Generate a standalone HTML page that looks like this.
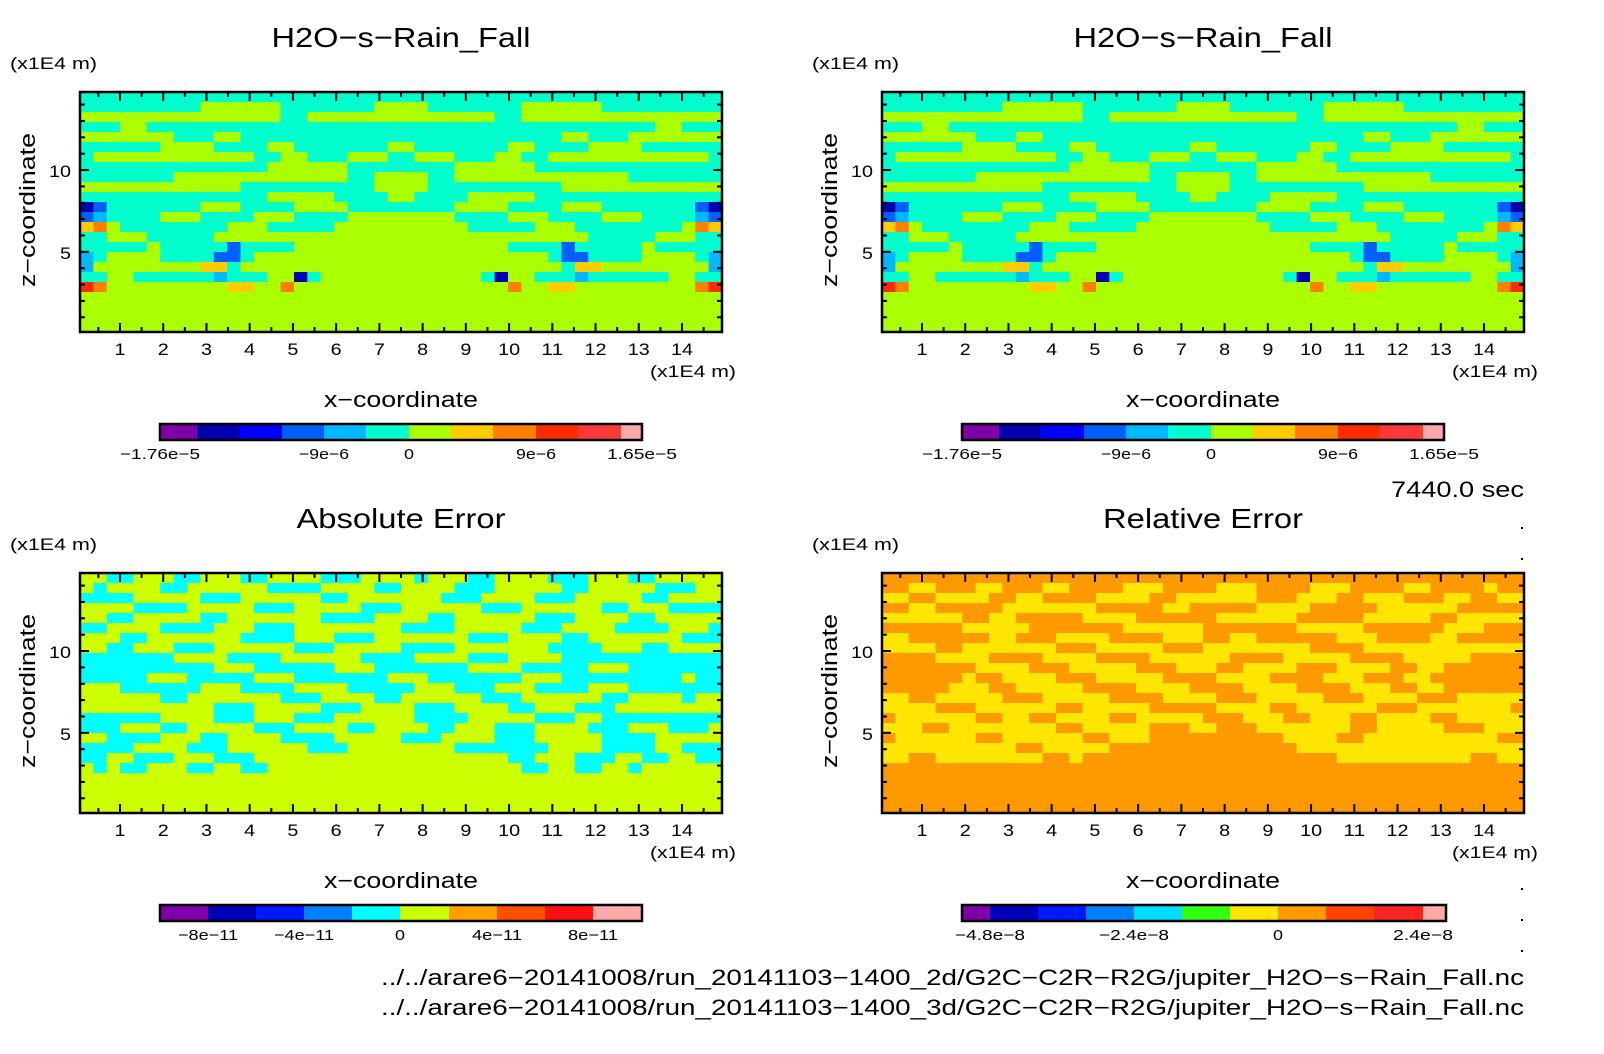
<!DOCTYPE html>
<html><head><meta charset="utf-8"><style>
html,body{margin:0;padding:0;background:#fff;}
svg{display:block;font-family:"Liberation Sans",sans-serif;}
</style></head><body>
<svg id="fig" width="1604" height="1054" viewBox="0 0 1604 1054" xmlns="http://www.w3.org/2000/svg">
<rect x="0" y="0" width="1604" height="1054" fill="#fff"/>
</svg>
<script>
// ---- data ----
const xTickLabels = ["1","2","3","4","5","6","7","8","9","10","11","12","13","14"];
const yTickLabels = ["5","10"];
const xDomain = [0.075, 14.925];
const zDomain = [0.1, 14.77];
const topField = [
"555555555555555555555555555555555555555555555555",
"555555555666666555555566665555555666666555555555",
"666666666666666556666666666666655666666666666666",
"555665555555555555555555555555555555555555566555",
"666666655566555555555555555555555555665556666666",
"555555666655556655555556655555556655556666555555",
"566666666666655665556665566655566556666666666665",
"555555555555556666665555555566666655555555555555",
"555555566666666666665566665566666666666665555555",
"666666666666555555555566665555555555666666666666",
"555555555555556666655556655556666655555555555555",
"135555555666555566665555555566665555666555555531",
"345555666555566655556666666655556665555666555543",
"786555555556665555566666666665555566655555555687",
"556665555566666666666666666666666666665555566655",
"555556555553555566666666666666665555355555655555",
"456666555533566666666666666666666665335555666654",
"466666666775666666666666666666666666577666666664",
"556655555545556615666666666666516655545555556655",
"986666666667766866666666666666668667766666666689",
"666666666666666666666666666666666666666666666666",
"666666666666666666666666666666666666666666666666",
"666666666666666666666666666666666666666666666666",
"666666666666666666666666666666666666666666666666"];
const absField = [
"554455544555445555444555545554455554445554455555",
"545555445555554444555544555544455555445555544455",
"444455555444555555445555555444555544455555445555",
"555544445555544455555444555555444555555445554444",
"554455555445555555444455554455555544455554455555",
"445555444455544455555555444455555444555544445554",
"555445555555444455544455555554445555445555555444",
"554455544455555544455555444455555554444555445555",
"444444455554444555555444455554445555444444444444",
"444444444455544444455544444445555444445554444444",
"444445554444455544444445554444444555444444444544",
"555444444555444455554444455544455544445554444444",
"555555445555555444555544555555444555555445555455",
"555555555544455555444555544455554455544455555555",
"444444555544455544455555544445555544455444444444",
"444555445555544455554455554455544455554445554445",
"554444555445555444455555444555544455555444455555",
"444455554445555554445555555544444445555444455444",
"445544455544455555555555555555554455544455445544",
"545445554455445555555555555555555445544554555555",
"555555555555555555555555555555555555555555555555",
"555555555555555555555555555555555555555555555555",
"555555555555555555555555555555555555555555555555",
"555555555555555555555555555555555555555555555555"];
const relField = [
"777777777777777777777777777777777777777777777777",
"776677766777667777666777766677776667777667777677",
"667766667766777766667766666677766677666777667766",
"776677777666666677777667777766667777766666677777",
"666666776677777666677777766666677777666667766666",
"777777666667777777666666777777766666777777666777",
"667777776677766667777666776677777766677776677777",
"666677666666677766666777666666667777666666666666",
"777766667777666677776666667777666667777666667777",
"777777766667776666677766677666677766667766777777",
"777777677666677766666777766667777666777667777777",
"777776667766666777766667777666677776667766777777",
"667766666777666667777666677766666777666677766666",
"666677766666677666667777766667766666677766666667",
"766666677667766667766666777666776667766667766666",
"666776666666677666667776677766666667766666777666",
"766666677666666776667777777777666677666666666677",
"666666666677666667777777777777766666666666666666",
"667766666666776777777777777777777766666666667766",
"777777777777777777777777777777777777777777777777",
"777777777777777777777777777777777777777777777777",
"777777777777777777777777777777777777777777777777",
"777777777777777777777777777777777777777777777777",
"777777777777777777777777777777777777777777777777"];
const topColors = ["#7f00a8","#0000b0","#0000ff","#0060ff","#00b8ff","#00ffcc","#aaff00","#ffcc00","#ff8000","#ff2a00","#ff3838","#ffaaaa"];
const absColors = ["#7f00a8","#0000b8","#0018ff","#0080ff","#00ffff","#ccff00","#ffa000","#ff5000","#ff1010","#ffaaaa"];
const relColors = ["#7f00a8","#0000b8","#0018ff","#0080ff","#00ddff","#33ff11","#ffe600","#ff9900","#ff4400","#ff2222","#ffaaaa"];
const topCbLabels = ["-1.76e-5","-9e-6","0","9e-6","1.65e-5"];
const topCbLabelEdges = [0,4,6,9,12];
const absCbLabels = ["-8e-11","-4e-11","0","4e-11","8e-11"];
const absCbLabelEdges = [1,3,5,7,9];
const relCbLabels = ["-4.8e-8","-2.4e-8","0","2.4e-8"];
const relCbLabelEdges = [1,4,7,10];
// layout (pixels) - not data
const topCbEdgesPx = [160,197,239,282,324,366,409,451,493,536,578,621,642];
const absCbEdgesPx = [160,208,256,304,352,400,449,497,545,593,642];
const relCbEdgesPx = [160,188,236,284,332,380,428,476,524,572,621,644];

const NS="http://www.w3.org/2000/svg";
const svg=document.getElementById('fig');
function mk(tag,attrs,parent){const e=document.createElementNS(NS,tag);for(const k in attrs)e.setAttribute(k,attrs[k]);(parent||svg).appendChild(e);return e;}
function txt(s,x,y,size,anchor,parent,extra,len){const e=mk('text',Object.assign({x:x,y:y,'font-size':size,'text-anchor':anchor||'start',fill:'#000'},extra||{}),parent);e.textContent=s;
  if(len){e.setAttribute('textLength',len);e.setAttribute('lengthAdjust','spacingAndGlyphs');}return e;}

const FX0=80,FX1=722,FY0=92,FY1=332;
function xs(v){return FX0+(v-xDomain[0])/(xDomain[1]-xDomain[0])*(FX1-FX0);}
function zs(v){return FY1-(v-zDomain[0])/(zDomain[1]-zDomain[0])*(FY1-FY0);}

function panel(dx,dy,title,titleLen,field,colors,cbEdges,cbLabels,cbLabelEdges,name){
  const g=mk('g',{transform:`translate(${dx},${dy})`});
  
  
  const t=txt(title,401,47,28,'middle',g,null,titleLen);
  
  
  const u=txt("(x1E4 m)",10,69,17,'start',g,null,87);
  
  
  const fg=mk('g',{},g);
  
  
  const rows=field.length, cols=field[0].length;
  const dxv=(xDomain[1]-xDomain[0])/cols, dzv=(zDomain[1]-zDomain[0])/rows;
  for(let r=0;r<rows;r++){
    const row=field[r];let c=0;
    while(c<cols){
      let c2=c;while(c2<cols&&row[c2]===row[c])c2++;
      const x0=xs(xDomain[0]+c*dxv),x1=xs(xDomain[0]+c2*dxv);
      const y0=zs(zDomain[1]-r*dzv),y1=zs(zDomain[1]-(r+1)*dzv);
      const rc=mk('rect',{x:x0,y:y0,width:x1-x0+0.4,height:y1-y0+0.4,fill:colors[+row[c]]},fg);
      
      
      c=c2;
    }
  }
  const tg=mk('g',{stroke:'#000','stroke-width':2},g);
  
  
  for(let v=0.5;v<15;v+=0.5){
    const major=Math.abs(v-Math.round(v))<1e-6, L=major?9:5, x=xs(v);
    mk('line',{x1:x,y1:FY1,x2:x,y2:FY1-L},tg);mk('line',{x1:x,y1:FY0,x2:x,y2:FY0+L},tg);
  }
  for(let v=1;v<15;v++){
    const major=v%5===0, L=major?9:5, y=zs(v);
    mk('line',{x1:FX0,y1:y,x2:FX0+L,y2:y},tg);mk('line',{x1:FX1,y1:y,x2:FX1-L,y2:y},tg);
  }
  const fr=mk('rect',{x:FX0,y:FY0,width:FX1-FX0,height:FY1-FY0,fill:'none',stroke:'#000','stroke-width':2.5},g);
  
  
  xTickLabels.forEach((s,i)=>{const e=txt(s,xs(i+1),355,17,'middle',g,null,s.length*11);
    
    });
  yTickLabels.forEach((s,i)=>{const e=txt(s,71,zs((i+1)*5)+7,17,'end',g,null,s.length*11);
    
    });
  const xu=txt("(x1E4 m)",650,377,17,'start',g,null,86);
  
  
  const xt=txt("x\u2212coordinate",401,407,22,'middle',g,null,154);
  
  
  const yt=txt("z\u2212coordinate",0,0,22,'middle',g,{transform:'translate(35,210) rotate(-90)'},154);
  
  
  const cb=mk('g',{},g);
  
  
  colors.forEach((col,i)=>{const r=mk('rect',{x:cbEdges[i],y:424,width:cbEdges[i+1]-cbEdges[i],height:16,fill:col},cb);
    
    });
  mk('rect',{x:cbEdges[0],y:424,width:cbEdges[cbEdges.length-1]-cbEdges[0],height:16,fill:'none',stroke:'#000','stroke-width':2.5},cb);
  cbLabels.forEach((s,i)=>{const e=txt(s.replace(/-/g,'\u2212'),cbEdges[cbLabelEdges[i]],459,15,'middle',cb,null,s.length*10);
    
    });
}
panel(0,0,"H2O\u2212s\u2212Rain_Fall",259,topField,topColors,topCbEdgesPx,topCbLabels,topCbLabelEdges,'panel-top-left');
panel(802,0,"H2O\u2212s\u2212Rain_Fall",259,topField,topColors,topCbEdgesPx,topCbLabels,topCbLabelEdges,'panel-top-right');
panel(0,481,"Absolute Error",209,absField,absColors,absCbEdgesPx,absCbLabels,absCbLabelEdges,'panel-absolute-error');
panel(802,481,"Relative Error",200,relField,relColors,relCbEdgesPx,relCbLabels,relCbLabelEdges,'panel-relative-error');

const tm=txt("7440.0 sec",1524,497,22,'end',null,null,133);


[527,558,858,888,919,950].forEach(y=>{const d=mk('rect',{x:1521,y:y,width:2,height:2,fill:'#000'});
  
  });
const p1=txt("../../arare6-20141008/run_20141103-1400_2d/G2C-C2R-R2G/jupiter_H2O-s-Rain_Fall.nc".replace(/-/g,'\u2212'),1524,985,22,'end',null,null,1143);


const p2=txt("../../arare6-20141008/run_20141103-1400_3d/G2C-C2R-R2G/jupiter_H2O-s-Rain_Fall.nc".replace(/-/g,'\u2212'),1524,1015,22,'end',null,null,1143);


</script>
</body></html>
